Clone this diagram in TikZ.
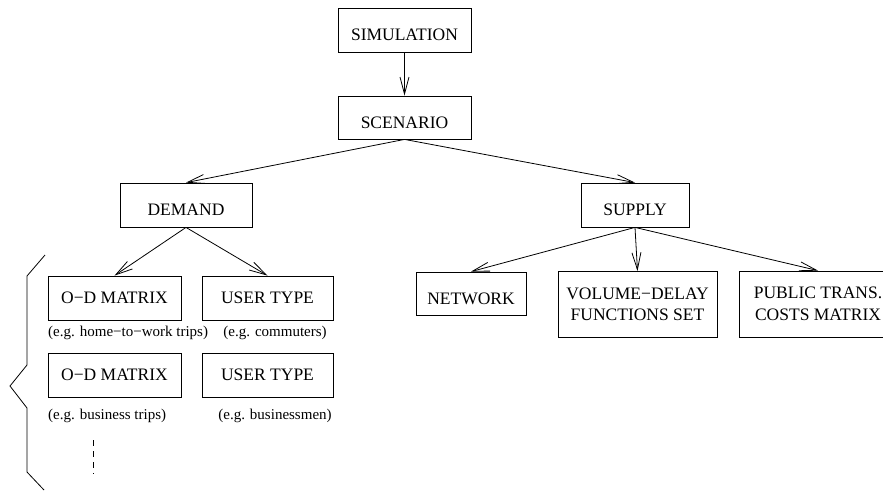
\documentclass[tikz,border=0pt]{standalone}
\usepackage{fontspec}
\setmainfont{Liberation Serif}
\usetikzlibrary{arrows.meta}

\begin{document}
\begin{tikzpicture}[x=1pt,y=-1pt,
    box/.style={draw, line width=0.8pt, inner sep=0pt, font=\fontsize{17.5}{21.5}\selectfont},
    low/.style={text height=21.6pt, text depth=0pt},
    note/.style={inner sep=0pt, font=\fontsize{15}{18}\selectfont},
    arr/.style={line width=0.8pt, -{Straight Barb[length=17pt,width=9pt,line width=0.8pt]}}]
    \useasboundingbox (0,0) rectangle (883,491);

    % top of the tree
    \node[box,low,minimum width=133pt,minimum height=44pt] (sim) at (404.5,30) {SIMULATION};
    \node[box,low,minimum width=133pt,minimum height=43pt] (scen) at (404.5,117.5) {SCENARIO};
    \node[box,low,minimum width=132pt,minimum height=44pt] (dem) at (186,205) {DEMAND};
    \node[box,low,minimum width=108pt,minimum height=44pt] (sup) at (635,205) {SUPPLY};

    % demand side
    \node[box,minimum width=133pt,minimum height=44pt] (od1) at (114.5,298) {O−D MATRIX};
    \node[box,minimum width=131pt,minimum height=44pt] (ut1) at (267.5,298) {USER TYPE};
    \node[box,minimum width=133pt,minimum height=44pt] (od2) at (114.5,375) {O−D MATRIX};
    \node[box,minimum width=131pt,minimum height=44pt] (ut2) at (267.5,375) {USER TYPE};
    \node[note,anchor=west] (c1) at (48,333) {(e.g. home−to−work trips)};
    \node[note] (c2) at (275,333) {(e.g. commuters)};
    \node[note,anchor=west] (c3) at (48,416) {(e.g. business trips)};
    \node[note] (c4) at (275,416) {(e.g. businessmen)};

    % supply side
    \node[box,low,minimum width=110pt,minimum height=43pt] (net) at (471,293.5) {NETWORK};
    \node[box,align=center,minimum width=159pt,minimum height=66pt,
          execute at begin node=\vspace*{7pt}] (vdf) at (637.5,304.5) {VOLUME−DELAY\\FUNCTIONS SET};
    \node[box,align=center,minimum width=158pt,minimum height=66pt,
          execute at begin node=\vspace*{11pt}] (ptc) at (818,304) {PUBLIC TRANS.\\COSTS MATRIX};

    % arrows
    \draw[arr] (sim) -- (scen);
    \draw[arr] (scen.south) -- (dem.north);
    \draw[arr] (scen.south) -- (sup.north);
    \draw[arr] (dem.south) -- (od1.north);
    \draw[arr] (dem.south) -- (ut1.north);
    \draw[arr] (sup.south) -- (net.north);
    \draw[arr] (sup.south) -- (vdf.north);
    \draw[arr] (sup.south) -- (ptc.north);

    % brace and dots
    \draw[line width=0.8pt] (45,255) -- (27,276) -- (27,365) -- (10,386) -- (27,408) -- (27,472) -- (44,490);
    \draw[line width=0.8pt, dash pattern=on 6pt off 5pt] (93,440) -- (93,474);
\end{tikzpicture}
\end{document}
